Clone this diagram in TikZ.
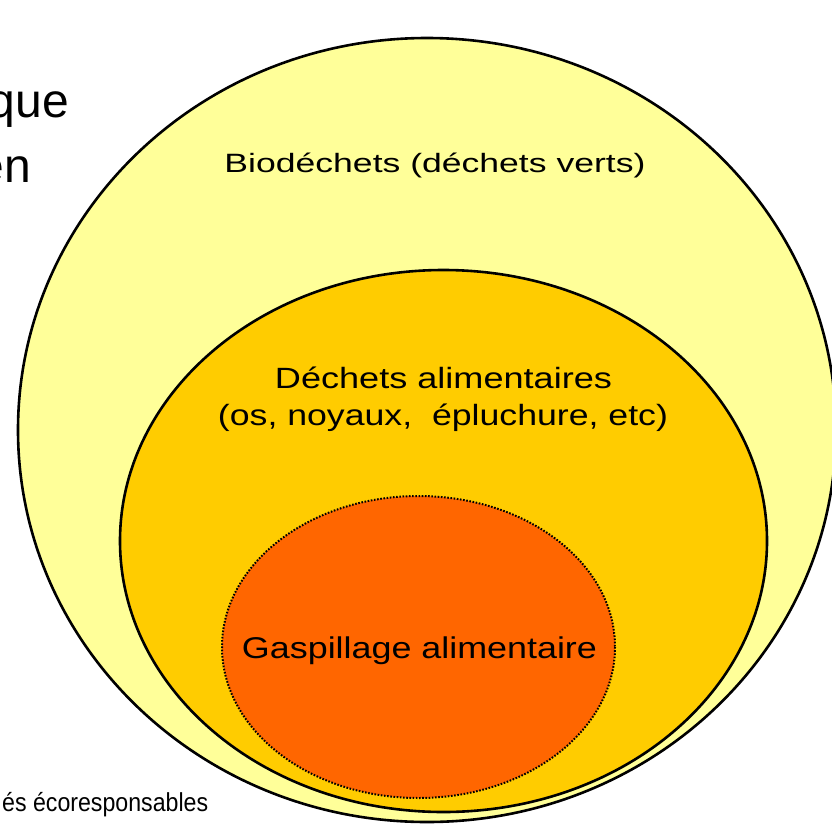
\documentclass[tikz,border=0pt]{standalone}
\usepackage{fontspec}
\setmainfont{Liberation Sans}
\usepackage{graphicx}
\definecolor{bioY}{HTML}{FFFF99}
\definecolor{alimY}{HTML}{FFCC00}
\definecolor{gaspO}{HTML}{FF6600}
\tikzset{
  zone/.style={draw=black, line width=2.6pt},
  gaspzone/.style={draw=black, line width=2pt, dash pattern=on 1.6pt off 1.6pt, fill=gaspO},
  lbl/.style={anchor=base, inner sep=0pt, text=black},
}
\begin{document}
\begin{tikzpicture}[x=1pt,y=-1pt]
\useasboundingbox (0,0) rectangle (832,825);
\clip (0,0) rectangle (832,825);
\fill[white] (0,0) rectangle (832,825);
% side texts (cut by the frame, as in the reference)
\node[lbl, anchor=base east] (que) at (69,117) {\fontsize{48}{56}\selectfont que};
\node[lbl, anchor=base east] (en) at (31,182) {\fontsize{48}{56}\selectfont en};
\node[lbl, anchor=base west] (eco) at (2,811) {\resizebox{206pt}{\height}{\fontsize{26}{30}\selectfont és écoresponsables}};
% nested zones
\draw[zone, fill=bioY] (427,430) ellipse [x radius=409, y radius=392];
\draw[zone, fill=alimY] (443.5,541) ellipse [x radius=323.5, y radius=271];
\draw[gaspzone] (418.5,647) ellipse [x radius=196.5, y radius=151];
% labels
\node[lbl] (bioT) at (435,172) {\resizebox{421pt}{\height}{\fontsize{26.5}{30}\selectfont Biodéchets (déchets verts)}};
\node[lbl] (alimT) at (443.5,388) {\resizebox{337pt}{\height}{\fontsize{29.3}{34}\selectfont Déchets alimentaires}};
\node[lbl] (alimS) at (443,425) {\resizebox{450pt}{\height}{\fontsize{29.3}{34}\selectfont (os, noyaux,~~épluchure, etc)}};
\node[lbl] (gaspT) at (419.5,658) {\resizebox{355pt}{\height}{\fontsize{30}{34}\selectfont Gaspillage alimentaire}};
\end{tikzpicture}
\end{document}
